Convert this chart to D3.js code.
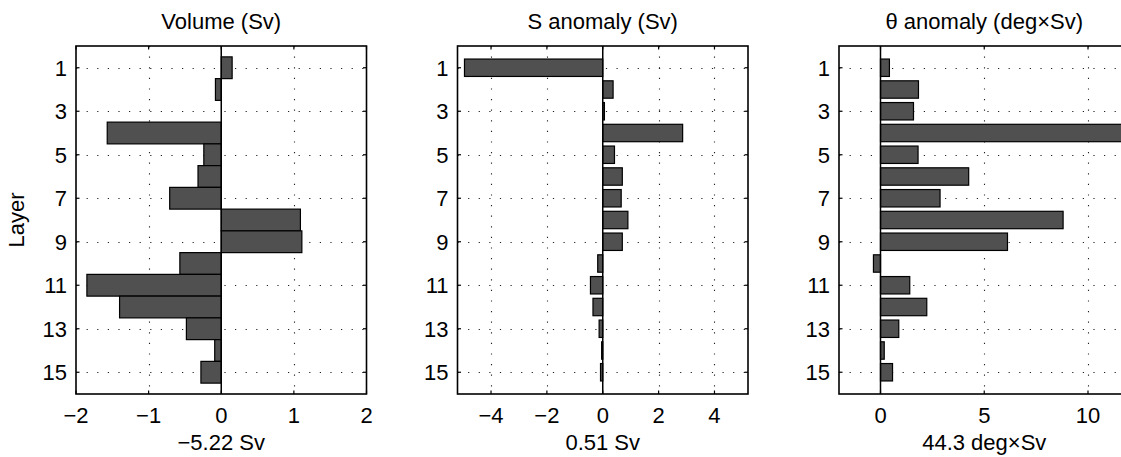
<!DOCTYPE html>
<html>
<head>
<meta charset="utf-8">
<script src="https://cdn.jsdelivr.net/npm/d3@7"></script>
<style>
  html, body { margin: 0; padding: 0; background: #fff; }
  svg { display: block; font-family: "Liberation Sans", Arial, Helvetica, sans-serif; }
</style>
</head>
<body>
<svg id="chart" width="1121" height="457"></svg>
<script>
// Layer-by-layer transport anomalies
const layers = [1, 2, 3, 4, 5, 6, 7, 8, 9, 10, 11, 12, 13, 14, 15];
const layerTicks = [1, 3, 5, 7, 9, 11, 13, 15];

const volume   = [0.15, -0.08, 0.00, -1.57, -0.24, -0.32, -0.71, 1.09, 1.11, -0.57, -1.85, -1.40, -0.48, -0.09, -0.28];
const salinity = [-4.95, 0.37, 0.06, 2.86, 0.42, 0.70, 0.66, 0.90, 0.70, -0.18, -0.44, -0.35, -0.13, -0.04, -0.08];
const theta    = [0.43, 1.83, 1.59, 11.66, 1.81, 4.25, 2.87, 8.80, 6.12, -0.34, 1.41, 2.23, 0.88, 0.18, 0.58];

const volumeTicks   = [-2, -1, 0, 1, 2];
const salinityTicks = [-4, -2, 0, 2, 4];
const thetaTicks    = [0, 5, 10];

const titles  = ["Volume (Sv)", "S anomaly (Sv)", "\u03b8 anomaly (deg\u00d7Sv)"];
const xLabels = ["\u22125.22 Sv", "0.51 Sv", "44.3 deg\u00d7Sv"];

const panels = [
  { values: volume,   domain: [-2, 2],     ticks: volumeTicks,   band: 1.0 },
  { values: salinity, domain: [-5.2, 5.2], ticks: salinityTicks, band: 0.8 },
  { values: theta,    domain: [-2, 12],    ticks: thetaTicks,    band: 0.8 }
];

const svg = d3.select("#chart");
const plotTop = 46, plotBottom = 394;
const boxW = 290.5, firstLeft = 76, step = 381.5;
const fontSize = 22;
const tickLen = 3.5;

const y = d3.scaleLinear().domain([0, 16]).range([plotTop, plotBottom]);
const fmt = d3.format("");

panels.forEach((p, i) => {
  const left = firstLeft + i * step;
  const x = d3.scaleLinear().domain(p.domain).range([left, left + boxW]);
  const g = svg.append("g");

  // dotted grid
  const grid = g.append("g")
    .attr("stroke", "#222").attr("stroke-width", 1.1)
    .attr("stroke-dasharray", "1.2,9.4").attr("fill", "none");
  grid.selectAll("line.v").data(p.ticks.filter(t => t !== 0 && t > p.domain[0] && t < p.domain[1]))
    .join("line").attr("class", "v")
    .attr("x1", d => Math.round(x(d)) + 0.5).attr("x2", d => Math.round(x(d)) + 0.5)
    .attr("y1", plotTop).attr("y2", plotBottom);
  grid.selectAll("line.h").data(layerTicks)
    .join("line").attr("class", "h")
    .attr("x1", left).attr("x2", left + boxW)
    .attr("y1", d => Math.round(y(d)) + 0.5).attr("y2", d => Math.round(y(d)) + 0.5);

  // bars
  const half = p.band / 2;
  g.append("g").selectAll("rect").data(layers)
    .join("rect")
    .attr("x", (d, k) => Math.min(x(0), x(p.values[k])))
    .attr("width", (d, k) => Math.abs(x(p.values[k]) - x(0)))
    .attr("y", d => y(d - half))
    .attr("height", d => y(d + half) - y(d - half))
    .attr("fill", "#505050")
    .attr("stroke", "#000").attr("stroke-width", 1.2);

  // zero baseline
  g.append("line")
    .attr("x1", x(0)).attr("x2", x(0)).attr("y1", plotTop).attr("y2", plotBottom)
    .attr("stroke", "#000").attr("stroke-width", 1.5);

  // axes box
  g.append("rect")
    .attr("x", left).attr("y", plotTop).attr("width", boxW).attr("height", plotBottom - plotTop)
    .attr("fill", "none").attr("stroke", "#000").attr("stroke-width", 1.6);

  // inward tick marks
  const ticksG = g.append("g").attr("stroke", "#000").attr("stroke-width", 1.2);
  p.ticks.forEach(t => {
    ticksG.append("line").attr("x1", x(t)).attr("x2", x(t)).attr("y1", plotTop).attr("y2", plotTop + tickLen);
    ticksG.append("line").attr("x1", x(t)).attr("x2", x(t)).attr("y1", plotBottom).attr("y2", plotBottom - tickLen);
  });
  layerTicks.forEach(t => {
    ticksG.append("line").attr("x1", left).attr("x2", left + tickLen).attr("y1", y(t)).attr("y2", y(t));
    ticksG.append("line").attr("x1", left + boxW).attr("x2", left + boxW - tickLen).attr("y1", y(t)).attr("y2", y(t));
  });

  // tick labels
  g.append("g").selectAll("text").data(p.ticks).join("text")
    .attr("x", d => x(d)).attr("y", 423)
    .attr("text-anchor", "middle").attr("font-size", fontSize)
    .text(d => fmt(d).replace("-", "\u2212"));
  g.append("g").selectAll("text").data(layerTicks).join("text")
    .attr("x", left - 9).attr("y", d => y(d)).attr("dy", "0.36em")
    .attr("text-anchor", "end").attr("font-size", fontSize)
    .text(d => fmt(d));

  // title and x label
  g.append("text").attr("x", left + boxW / 2).attr("y", 29)
    .attr("text-anchor", "middle").attr("font-size", fontSize).text(titles[i]);
  g.append("text").attr("x", left + boxW / 2).attr("y", 450)
    .attr("text-anchor", "middle").attr("font-size", fontSize).text(xLabels[i]);
});

svg.append("text")
  .attr("transform", `translate(24,${(plotTop + plotBottom) / 2}) rotate(-90)`)
  .attr("text-anchor", "middle").attr("font-size", fontSize).text("Layer");
</script>
</body>
</html>
